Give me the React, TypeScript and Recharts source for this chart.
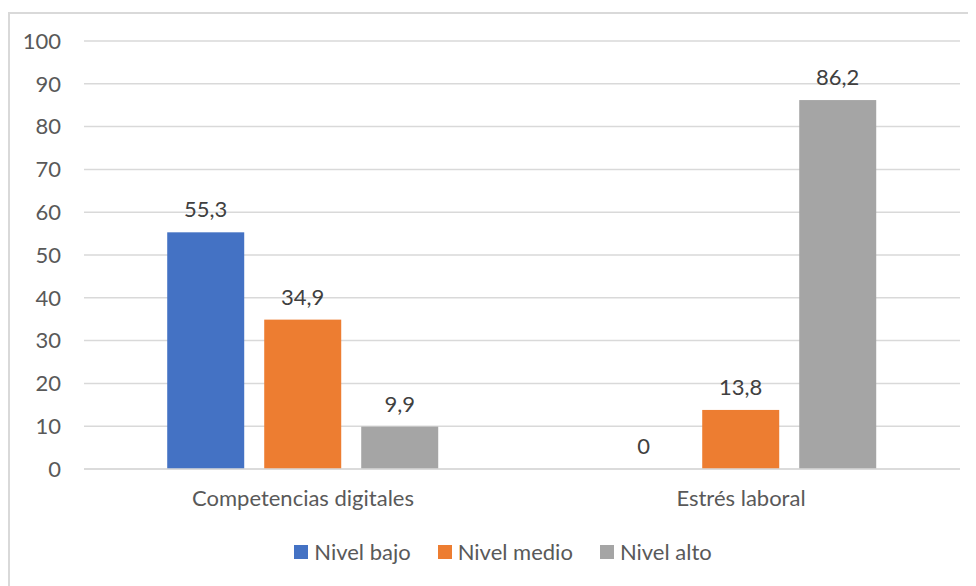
import React from 'react';
import { BarChart, Bar, XAxis, YAxis, CartesianGrid, Legend } from 'recharts';

const categories = ['Competencias digitales', 'Estrés laboral'];
const nivelBajo = [55.3, 0];
const nivelMedio = [34.9, 13.8];
const nivelAlto = [9.9, 86.2];
const yTicks = [0, 10, 20, 30, 40, 50, 60, 70, 80, 90, 100];
const seriesKeys = ['bajo', 'medio', 'alto'];
const seriesNames = ['Nivel bajo', 'Nivel medio', 'Nivel alto'];
const seriesColors = ['#4472C4', '#ED7D31', '#A5A5A5'];

const data = categories.map((c, i) => ({
  name: c,
  bajo: nivelBajo[i],
  medio: nivelMedio[i],
  alto: nivelAlto[i],
}));

const FONT = 'Lato, "Open Sans", sans-serif';
const FS = 22;
const fmt = (v: any) => String(v).replace('.', ',');

const LegendContent = () => (
  <div style={{ display: 'flex', justifyContent: 'center', fontFamily: FONT, fontSize: FS, color: '#595959', lineHeight: '28px', paddingLeft: 38 }}>
    {seriesNames.map((n, i) => (
      <div key={i} style={{ display: 'flex', alignItems: 'center', marginRight: i < seriesNames.length - 1 ? 27 : 0 }}>
        <span style={{ display: 'inline-block', width: 14, height: 14, background: seriesColors[i], marginRight: 6 }} />
        <span>{n}</span>
      </div>
    ))}
  </div>
);

const makeShape = (key: string, color: string) => (props: any) => {
  const { x, y, width, height, payload } = props;
  const value = payload ? payload[key] : props.value;
  const real = Number(value) > 0;
  const baseY = real ? Number(y) : Number(y) + Number(height);
  return (
    <g>
      {real && <rect x={x} y={y} width={width} height={height} fill={color} />}
      <text x={Number(x) + Number(width) / 2} y={baseY - 15} textAnchor="middle" fill="#404040" fontSize={FS} fontFamily={FONT}>
        {fmt(value)}
      </text>
    </g>
  );
};

export default function App() {
  return (
    <div style={{ position: 'relative', marginTop: 4, width: 968, height: 574 }}>
      <div style={{ position: 'absolute', left: 0, top: 0, width: 980, height: 590, border: '2px solid #d9d9d9', boxSizing: 'border-box', pointerEvents: 'none' }} />
      <BarChart
        width={968}
        height={574}
        data={data}
        margin={{ top: 29, right: 16, left: 0, bottom: 39 }}
        barCategoryGap="19%"
        barGap={20}
      >
        <CartesianGrid vertical={false} stroke="#d9d9d9" strokeWidth={1.5} />
        <XAxis
          dataKey="name"
          tickLine={false}
          axisLine={{ stroke: '#d9d9d9', strokeWidth: 1.5 }}
          tickSize={0}
          tickMargin={21}
          height={50}
          tick={{ fill: '#595959', fontSize: FS, fontFamily: FONT }}
        />
        <YAxis
          width={76}
          domain={[0, 100]}
          ticks={yTicks}
          interval={0}
          tickLine={false}
          axisLine={false}
          tickSize={0}
          tickMargin={23}
          tick={{ fill: '#595959', fontSize: FS, fontFamily: FONT }}
        />
        <Legend verticalAlign="bottom" content={<LegendContent />} wrapperStyle={{ bottom: 20, height: 28 }} />
        {seriesKeys.map((k, i) => (
          <Bar
            key={k}
            dataKey={k}
            name={seriesNames[i]}
            fill={seriesColors[i]}
            minPointSize={1}
            shape={makeShape(k, seriesColors[i])}
            isAnimationActive={false}
          />
        ))}
      </BarChart>
    </div>
  );
}
